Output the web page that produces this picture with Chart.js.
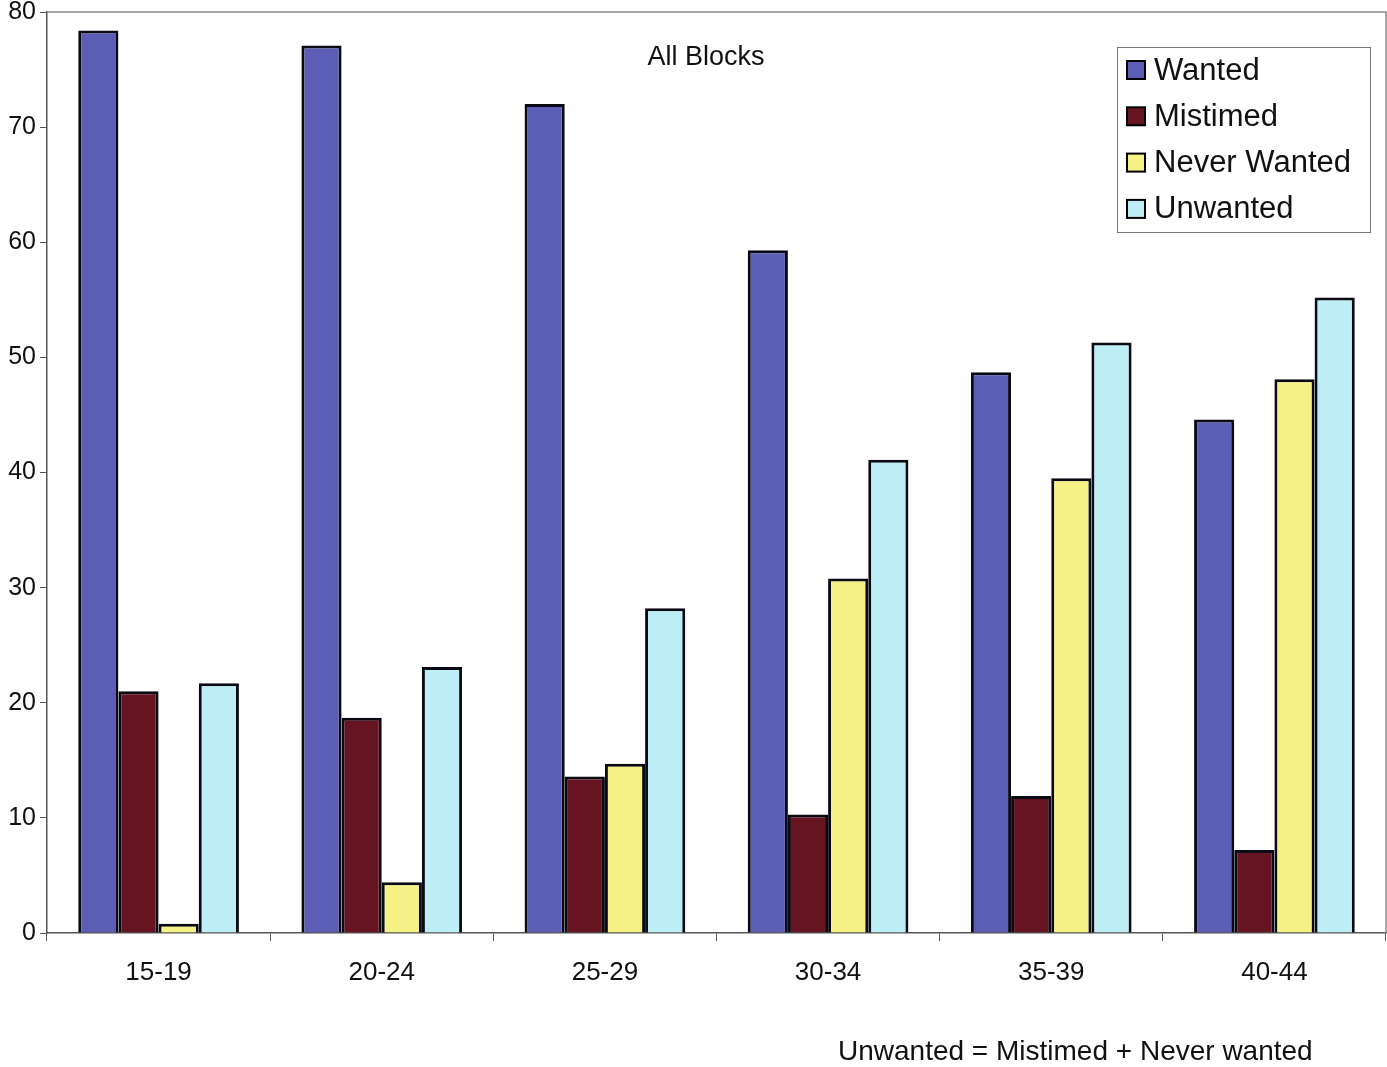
<!DOCTYPE html>
<html>
<head>
<meta charset="utf-8">
<script src="https://cdn.jsdelivr.net/npm/chart.js@4.4.1/dist/chart.umd.min.js"></script>
<style>
  html, body { margin: 0; padding: 0; background: #fff; }
  #wrap { position: relative; width: 1387px; height: 1067px; }
  #note { position: absolute; left: 838px; top: 1035px; font: 28px "Liberation Sans", Arial, sans-serif; color: #111; white-space: nowrap; }
</style>
</head>
<body>
<div id="wrap">
  <canvas id="myChart" width="1387" height="1067"></canvas>
  <div id="note">Unwanted = Mistimed + Never wanted</div>
</div>
<script>
const ageGroups = ["15-19", "20-24", "25-29", "30-34", "35-39", "40-44"];
const wanted = [78.4, 77.1, 72.0, 59.3, 48.7, 44.6];
const mistimed = [21.0, 18.7, 13.6, 10.3, 11.9, 7.2];
const neverWanted = [0.8, 4.4, 14.7, 30.8, 39.5, 48.1];
const unwanted = [21.7, 23.1, 28.2, 41.1, 51.3, 55.2];
const yTicks = [0, 10, 20, 30, 40, 50, 60, 70, 80];

const FONT = '"Liberation Sans", Arial, sans-serif';

// frame, title and boxed legend drawn inside the plot area
const extras = {
  id: 'extras',
  afterDraw(chart) {
    const ctx = chart.ctx;
    const a = chart.chartArea;
    ctx.save();
    // top + right frame
    ctx.strokeStyle = '#8a8a8a';
    ctx.lineWidth = 1.5;
    ctx.beginPath();
    ctx.moveTo(a.left, a.top);
    ctx.lineTo(a.right, a.top);
    ctx.lineTo(a.right, a.bottom);
    ctx.stroke();
    // title
    ctx.fillStyle = '#111';
    ctx.font = '27px ' + FONT;
    ctx.textAlign = 'center';
    ctx.textBaseline = 'middle';
    ctx.fillText('All Blocks', 706, 58);
    // legend
    ctx.strokeStyle = '#777';
    ctx.lineWidth = 1;
    ctx.strokeRect(1117.5, 47.5, 253, 185);
    ctx.font = '31px ' + FONT;
    ctx.textAlign = 'left';
    chart.data.datasets.forEach((ds, i) => {
      const cy = 70 + i * 46.3;
      ctx.fillStyle = ds.backgroundColor;
      ctx.fillRect(1127, cy - 9, 18, 18);
      ctx.strokeStyle = '#000';
      ctx.lineWidth = 2;
      ctx.strokeRect(1127, cy - 9, 18, 18);
      ctx.fillStyle = '#111';
      ctx.fillText(ds.label, 1154, cy + 1);
    });
    ctx.restore();
  }
};

new Chart(document.getElementById('myChart'), {
  type: 'bar',
  data: {
    labels: ageGroups,
    datasets: [
      { label: 'Wanted', data: wanted, backgroundColor: '#5b5eb4' },
      { label: 'Mistimed', data: mistimed, backgroundColor: '#661322' },
      { label: 'Never Wanted', data: neverWanted, backgroundColor: '#f6f184' },
      { label: 'Unwanted', data: unwanted, backgroundColor: '#bdeef5' }
    ]
  },
  options: {
    responsive: false,
    animation: false,
    layout: { padding: { top: 12, right: 1, left: 0, bottom: 0 } },
    datasets: {
      bar: {
        borderColor: '#0a0a14',
        borderWidth: 3,
        categoryPercentage: 0.72,
        barPercentage: 1.0
      }
    },
    plugins: {
      legend: { display: false },
      tooltip: { enabled: false }
    },
    scales: {
      x: {
        grid: { offset: true, drawOnChartArea: false, drawTicks: true, tickLength: 8, color: '#555' },
        border: { color: '#555', width: 1.5 },
        ticks: { color: '#111', font: { family: FONT, size: 26 }, padding: 16 },
        afterFit(scale) { scale.height = 134; scale.paddingLeft = 0; scale.paddingRight = 0; }
      },
      y: {
        min: 0,
        max: 80,
        afterBuildTicks(scale) { scale.ticks = yTicks.map(v => ({ value: v })); },
        grid: { drawOnChartArea: false, drawTicks: true, tickLength: 7, color: '#555' },
        border: { color: '#555', width: 1.5 },
        ticks: { color: '#111', font: { family: FONT, size: 25 }, padding: 4 },
        afterFit(scale) { scale.width = 47; scale.paddingTop = 0; scale.paddingBottom = 0; }
      }
    }
  },
  plugins: [extras]
});
</script>
</body>
</html>
